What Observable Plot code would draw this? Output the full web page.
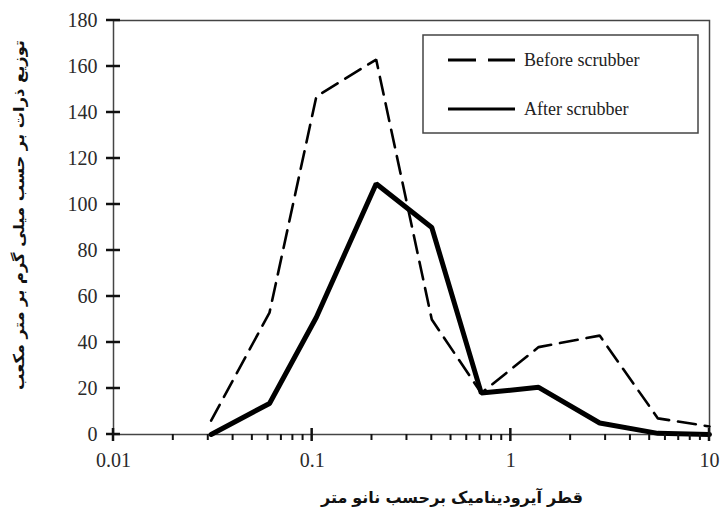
<!DOCTYPE html>
<html><head><meta charset="utf-8">
<script src="https://cdn.jsdelivr.net/npm/d3@7"></script>
<script src="https://cdn.jsdelivr.net/npm/@observablehq/plot@0.6"></script>
<style>
body{margin:0;background:#fff}
#chart{position:relative;width:722px;height:521px}
</style>
</head><body><div id="chart"></div>
<script>
const diameters = [0.031, 0.061, 0.105, 0.21, 0.40, 0.71, 1.38, 2.8, 5.5, 10];
const beforeScrubber = [6, 53, 147, 163, 50, 18, 38, 43, 7, 3.5];
const afterScrubber = [0, 13.5, 51, 109, 90, 18, 20.5, 5, 0.5, 0];
const seriesNames = ["Before scrubber", "After scrubber"];
const xTicks = [0.01, 0.1, 1, 10];
const xMinorTicks = [0.02,0.03,0.04,0.05,0.06,0.07,0.08,0.09,0.2,0.3,0.4,0.5,0.6,0.7,0.8,0.9,2,3,4,5,6,7,8,9];
const yTicks = [0, 20, 40, 60, 80, 100, 120, 140, 160, 180];
const xLabelWords = ["قطر", "آیرودینامیک", "برحسب", "نانو", "متر"];
const yLabel = "توزیع ذرات بر حسب میلی گرم بر متر مکعب";

const before = diameters.map((d, i) => ({x: d, y: beforeScrubber[i]}));
const after = diameters.map((d, i) => ({x: d, y: afterScrubber[i]}));

const W = 722, H = 521, ML = 113, MR = 13, MT = 20, MB = 87;

const svg = Plot.plot({
  width: W, height: H,
  marginLeft: ML, marginRight: MR, marginTop: MT, marginBottom: MB,
  x: {type: "log", domain: [0.01, 10]},
  y: {domain: [0, 180]},
  style: {fontFamily: "Liberation Serif", fontSize: "20px", color: "#2a2a2a", background: "#fff", overflow: "visible"},
  marks: [
    Plot.frame({stroke: "#444", strokeWidth: 1.5}),
    Plot.axisY({ticks: yTicks, tickSize: 0, tickPadding: 16, label: null, tickFormat: d => String(d)}),
    Plot.axisX({ticks: xTicks, tickSize: 0, tickPadding: 18, label: null, tickFormat: d => String(d)}),
    Plot.line(before, {x: "x", y: "y", stroke: "#000", strokeWidth: 2.6, strokeDasharray: "18,9", strokeLinejoin: "miter"}),
    Plot.line(after, {x: "x", y: "y", stroke: "#000", strokeWidth: 5, strokeLinejoin: "miter"})
  ]
});

document.getElementById("chart").appendChild(svg);
const root = d3.select(svg);
const sx = svg.scale("x"), sy = svg.scale("y");
const y0 = sy.apply(0), x0 = sx.apply(0.01);

// tick marks through Plot's scales
const ticks = root.append("g");
yTicks.forEach(v => ticks.append("line").attr("x1", x0 - 7).attr("x2", x0 + 7)
  .attr("y1", sy.apply(v)).attr("y2", sy.apply(v)).attr("stroke", "#111").attr("stroke-width", 2.5));
xTicks.forEach(v => ticks.append("line").attr("x1", sx.apply(v)).attr("x2", sx.apply(v))
  .attr("y1", y0 - 6).attr("y2", y0 + 7).attr("stroke", "#111").attr("stroke-width", 2.5));
xMinorTicks.forEach(v => ticks.append("line").attr("x1", sx.apply(v)).attr("x2", sx.apply(v))
  .attr("y1", y0).attr("y2", y0 + 6).attr("stroke", "#111").attr("stroke-width", 2));

// y title
root.append("text").attr("transform", "translate(19,215) rotate(-90)")
  .attr("text-anchor", "middle").attr("dominant-baseline", "middle")
  .attr("font-family", "DejaVu Sans").attr("font-weight", "bold").attr("font-size", 15).attr("fill", "#111")
  .attr("textLength", 350).attr("lengthAdjust", "spacingAndGlyphs")
  .text(yLabel);

// x title: placed so that the first word shows at the left, as in the reference
const xl = root.append("g").attr("text-anchor", "start")
  .attr("font-family", "DejaVu Sans").attr("font-weight", "bold").attr("font-size", 16).attr("fill", "#111");
const order = xLabelWords.slice().reverse();
const words = order.map(w => xl.append("text").attr("y", 503).text(w));
const gap = 5;
const widths = words.map(t => t.node().getComputedTextLength());
const total = d3.sum(widths) + gap * (words.length - 1);
let cx = 452 - total / 2;
words.forEach((t, i) => { t.attr("x", cx); cx += widths[i] + gap; });

// legend
const g = root.append("g").attr("text-anchor", "start");
g.append("rect").attr("x", 423).attr("y", 35).attr("width", 275).attr("height", 98)
  .attr("fill", "#fff").attr("stroke", "#444").attr("stroke-width", 1.5);
const legendStyles = [{dash: "28,12", w: 3}, {dash: null, w: 3}];
seriesNames.forEach((name, i) => {
  const y = 60 + i * 49;
  g.append("line").attr("x1", 448).attr("x2", 515).attr("y1", y).attr("y2", y)
    .attr("stroke", "#000").attr("stroke-width", legendStyles[i].w)
    .attr("stroke-dasharray", legendStyles[i].dash);
  g.append("text").attr("x", 524).attr("y", y + 6).text(name)
    .attr("font-family", "Liberation Serif").attr("font-size", 18).attr("fill", "#222");
});
</script>
</body></html>
